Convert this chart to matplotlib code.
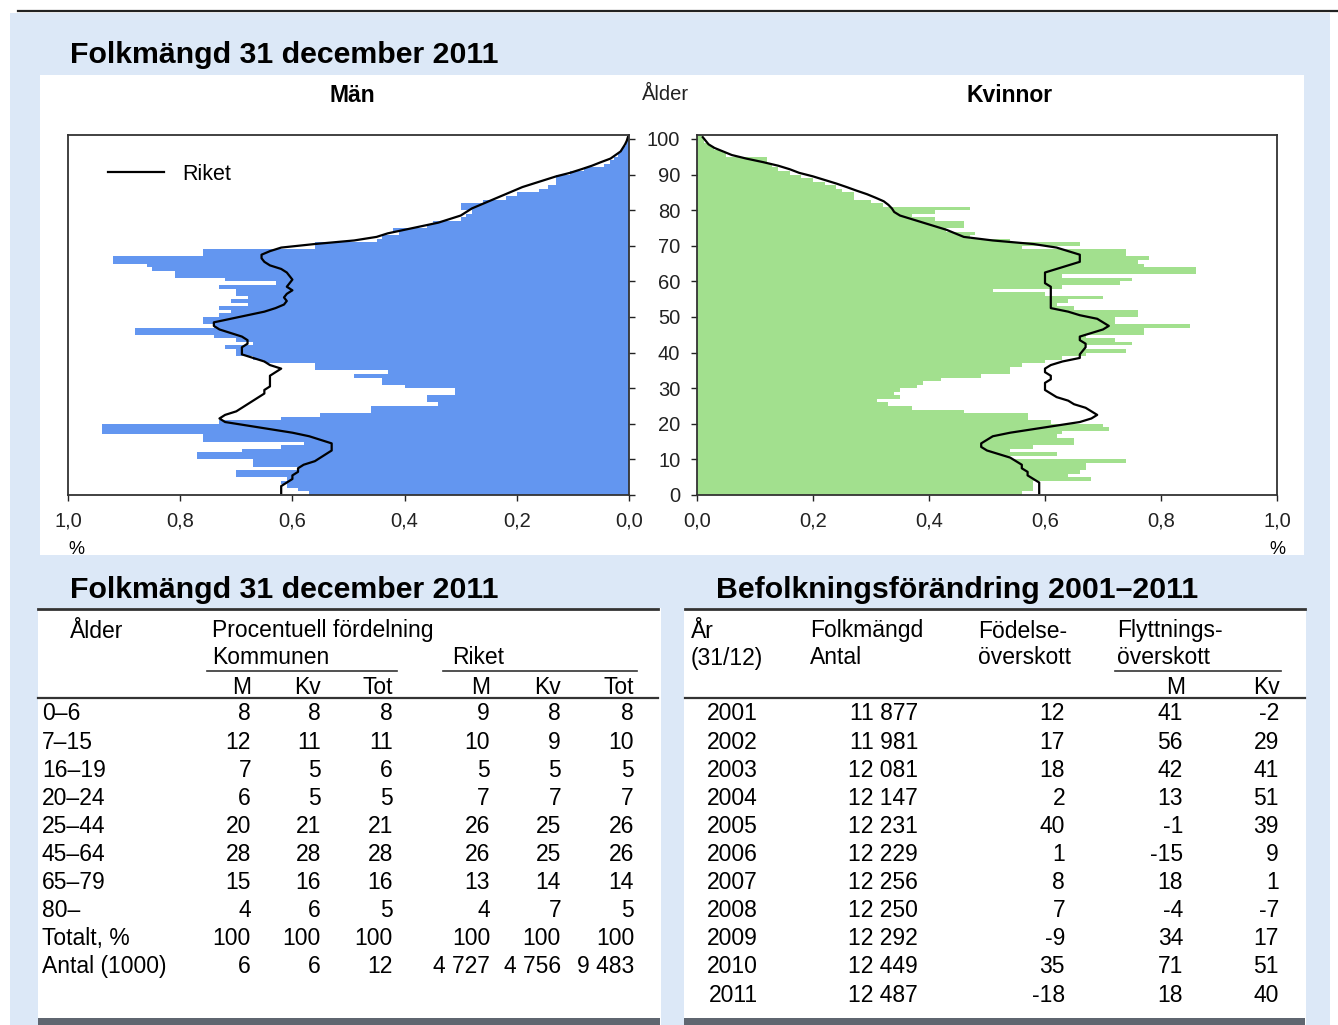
import numpy as np
import matplotlib
matplotlib.use("Agg")
import matplotlib.pyplot as plt
from matplotlib.patches import Rectangle
from matplotlib.lines import Line2D
from matplotlib.ticker import FuncFormatter

plt.rcParams['font.family'] = ['Liberation Sans', 'DejaVu Sans']

# --- data: befolkningspyramid, andel (%) per ettårsklass 0-100 ---
alder = np.arange(0, 101)

man = [0.57, 0.59, 0.61, 0.62, 0.61, 0.70, 0.70, 0.59, 0.67, 0.67,
       0.77, 0.77, 0.69, 0.62, 0.58, 0.76, 0.76, 0.94, 0.94, 0.94,
       0.73, 0.62, 0.55, 0.46, 0.46, 0.34, 0.36, 0.36, 0.31, 0.31,
       0.40, 0.44, 0.44, 0.49, 0.43, 0.56, 0.56, 0.65, 0.67, 0.70,
       0.70, 0.72, 0.67, 0.70, 0.74, 0.88, 0.88, 0.74, 0.76, 0.76,
       0.73, 0.71, 0.73, 0.68, 0.71, 0.68, 0.70, 0.70, 0.73, 0.63,
       0.72, 0.81, 0.81, 0.85, 0.86, 0.92, 0.92, 0.76, 0.76, 0.56,
       0.56, 0.45, 0.44, 0.41, 0.42, 0.36, 0.35, 0.30, 0.29, 0.28,
       0.30, 0.30, 0.26, 0.22, 0.20, 0.16, 0.145, 0.13, 0.13, 0.13,
       0.105, 0.08, 0.045, 0.033, 0.026, 0.02, 0.015, 0.01, 0.005, 0.003,
       0.002]

kvinnor = [0.56, 0.58, 0.58, 0.58, 0.68, 0.64, 0.66, 0.67, 0.67, 0.74,
           0.54, 0.62, 0.54, 0.58, 0.65, 0.65, 0.62, 0.63, 0.71, 0.70,
           0.61, 0.57, 0.57, 0.46, 0.37, 0.33, 0.31, 0.35, 0.34, 0.35,
           0.38, 0.39, 0.42, 0.49, 0.54, 0.54, 0.56, 0.60, 0.63, 0.67,
           0.74, 0.67, 0.75, 0.72, 0.67, 0.77, 0.77, 0.85, 0.72, 0.72,
           0.76, 0.76, 0.65, 0.62, 0.64, 0.70, 0.60, 0.51, 0.63, 0.73,
           0.75, 0.63, 0.86, 0.86, 0.77, 0.76, 0.78, 0.74, 0.74, 0.56,
           0.66, 0.54, 0.47, 0.48, 0.43, 0.46, 0.46, 0.41, 0.37, 0.41,
           0.47, 0.32, 0.30, 0.27, 0.27, 0.25, 0.24, 0.22, 0.20, 0.18,
           0.16, 0.14, 0.13, 0.12, 0.12, 0.05, 0.045, 0.03, 0.02, 0.012,
           0.01]

riket_man = [0.62, 0.62, 0.62, 0.61, 0.60, 0.60, 0.59, 0.59, 0.58, 0.56,
             0.55, 0.54, 0.53, 0.53, 0.53, 0.55, 0.57, 0.60, 0.64, 0.68,
             0.72, 0.73, 0.72, 0.70, 0.69, 0.68, 0.67, 0.66, 0.65, 0.65,
             0.64, 0.64, 0.64, 0.64, 0.63, 0.62, 0.64, 0.65, 0.67, 0.69,
             0.69, 0.69, 0.68, 0.68, 0.69, 0.71, 0.73, 0.74, 0.74, 0.71,
             0.68, 0.65, 0.63, 0.615, 0.61, 0.615, 0.61, 0.60, 0.61, 0.605,
             0.60, 0.605, 0.61, 0.62, 0.64, 0.65, 0.655, 0.655, 0.64, 0.62,
             0.56, 0.49, 0.45, 0.43, 0.40, 0.37, 0.34, 0.32, 0.30, 0.29,
             0.28, 0.265, 0.25, 0.235, 0.22, 0.205, 0.19, 0.17, 0.15, 0.13,
             0.105, 0.085, 0.066, 0.05, 0.033, 0.024, 0.015, 0.011, 0.007, 0.004,
             0.002]

riket_kv = [0.59, 0.59, 0.59, 0.59, 0.58, 0.57, 0.57, 0.56, 0.56, 0.55,
            0.54, 0.52, 0.50, 0.49, 0.49, 0.50, 0.51, 0.54, 0.58, 0.62,
            0.66, 0.68, 0.69, 0.68, 0.67, 0.65, 0.64, 0.62, 0.61, 0.60,
            0.60, 0.60, 0.61, 0.61, 0.60, 0.60, 0.61, 0.63, 0.66, 0.66,
            0.665, 0.67, 0.67, 0.66, 0.66, 0.68, 0.70, 0.71, 0.70, 0.69,
            0.66, 0.64, 0.61, 0.61, 0.61, 0.61, 0.61, 0.61, 0.61, 0.60,
            0.60, 0.60, 0.60, 0.62, 0.64, 0.66, 0.66, 0.66, 0.64, 0.62,
            0.58, 0.51, 0.46, 0.445, 0.43, 0.41, 0.39, 0.37, 0.35, 0.34,
            0.336, 0.33, 0.322, 0.308, 0.293, 0.275, 0.258, 0.24, 0.22, 0.20,
            0.176, 0.16, 0.14, 0.114, 0.085, 0.06, 0.045, 0.03, 0.02, 0.015,
            0.01]

# --- data: tabell Folkmängd ---
aldersgrupper = ["0–6", "7–15", "16–19", "20–24", "25–44", "45–64", "65–79", "80–",
                 "Totalt, %", "Antal (1000)"]
kom_m = [8, 12, 7, 6, 20, 28, 15, 4, 100, 6]
kom_kv = [8, 11, 5, 5, 21, 28, 16, 6, 100, 6]
kom_tot = [8, 11, 6, 5, 21, 28, 16, 5, 100, 12]
rik_m = [9, 10, 5, 7, 26, 26, 13, 4, 100, 4727]
rik_kv = [8, 9, 5, 7, 25, 25, 14, 7, 100, 4756]
rik_tot = [8, 10, 5, 7, 26, 26, 14, 5, 100, 9483]

# --- data: tabell Befolkningsförändring ---
ar = [2001, 2002, 2003, 2004, 2005, 2006, 2007, 2008, 2009, 2010, 2011]
folkmangd = [11877, 11981, 12081, 12147, 12231, 12229, 12256, 12250, 12292, 12449, 12487]
fodelseoversk = [12, 17, 18, 2, 40, 1, 8, 7, -9, 35, -18]
flytt_m = [41, 56, 42, 13, -1, -15, 18, -4, 34, 71, 18]
flytt_kv = [-2, 29, 41, 51, 39, 9, 1, -7, 17, 51, 40]

W, H = 1338, 1025
BLA = '#6396F0'
GRON = '#A2E08E'
BAKGRUND = '#DCE8F7'


def fx(px):
    return px / W


def fy(py):
    return 1 - py / H


def tal(v):
    return f"{v:,}".replace(",", " ")


fig = plt.figure(figsize=(W / 100, H / 100), dpi=100)

# bakgrund och paneler
fig.add_artist(Rectangle((fx(10), 0), fx(1330) - fx(10), fy(13), transform=fig.transFigure,
                         facecolor=BAKGRUND, edgecolor='none', zorder=-10))
for x0, y0, x1, y1 in [(40, 75, 1304, 555), (38, 608, 661, 1025), (684, 608, 1306, 1025)]:
    fig.add_artist(Rectangle((fx(x0), fy(y1)), fx(x1) - fx(x0), fy(y0) - fy(y1),
                             transform=fig.transFigure, facecolor='white',
                             edgecolor='none', zorder=-9))
fig.add_artist(Line2D([fx(18), 1], [fy(11), fy(11)], color='#222222', lw=1.6,
                      transform=fig.transFigure))

# --- pyramid ---
komma = FuncFormatter(lambda v, p: f"{v:.1f}".replace(".", ","))
ax_m = fig.add_axes([fx(68), fy(495), fx(629) - fx(68), (101 * 3.56) / H])
ax_k = fig.add_axes([fx(697), fy(495), fx(1277) - fx(697), (101 * 3.56) / H])

ax_m.barh(alder, man, height=1, align='edge', color=BLA, linewidth=0)
l_riket, = ax_m.plot(riket_man, alder + 0.5, color='black', lw=1.6)
ax_k.barh(alder, kvinnor, height=1, align='edge', color=GRON, linewidth=0)
ax_k.plot(riket_kv, alder + 0.5, color='black', lw=1.6)

ax_m.set_xlim(1.0, 0.0)
ax_k.set_xlim(0.0, 1.0)
for ax in (ax_m, ax_k):
    ax.set_ylim(0, 101)
    ax.set_xticks([0.0, 0.2, 0.4, 0.6, 0.8, 1.0])
    ax.xaxis.set_major_formatter(komma)
    ax.set_yticks(range(0, 101, 10))
    ax.tick_params(axis='x', direction='out', length=4, width=1, pad=8,
                   labelsize=14.5, colors='#222222')
    ax.tick_params(axis='y', direction='out', length=4, width=1, colors='#222222')
    for s in ax.spines.values():
        s.set_linewidth(1.3)
        s.set_color('#333333')
    ax.set_facecolor('white')

ax_m.yaxis.tick_right()
ax_m.tick_params(axis='y', labelright=False)
ax_k.tick_params(axis='y', labelleft=True, pad=8, labelsize=14.5)

ax_m.legend([l_riket], ["Riket"], loc='upper left', bbox_to_anchor=(0.036, 0.975),
            frameon=False, fontsize=15.5, handlelength=2.6, handletextpad=0.85)

fig.text(fx(352), fy(95), "Män", fontsize=16.5, fontweight='bold', ha='center', va='center')
fig.text(fx(666), fy(95), "Ålder", fontsize=14.5, ha='center', va='center', color='#222222')
fig.text(fx(1010), fy(95), "Kvinnor", fontsize=16.5, fontweight='bold', ha='center', va='center')
fig.text(fx(76), fy(549), "%", fontsize=13, ha='center', va='center')
fig.text(fx(1277), fy(549), "%", fontsize=13, ha='center', va='center')

# rubriker
RS = 21.8
fig.text(fx(70), fy(55), "Folkmängd 31 december 2011", fontsize=RS, fontweight='bold',
         ha='left', va='center')
fig.text(fx(70), fy(590), "Folkmängd 31 december 2011", fontsize=RS, fontweight='bold',
         ha='left', va='center')
fig.text(fx(716), fy(590), "Befolkningsförändring 2001–2011", fontsize=RS, fontweight='bold',
         ha='left', va='center')


def hlinje(x0, x1, y, lw=1.6, color='#333333'):
    fig.add_artist(Line2D([fx(x0), fx(x1)], [fy(y), fy(y)], color=color, lw=lw,
                          transform=fig.transFigure))


TS = 16.5

# --- vänster tabell ---
hlinje(38, 658, 609, lw=2)
hlinje(38, 658, 698, lw=1.6)
hlinje(207, 397, 671, lw=1.2)
hlinje(443, 637, 671, lw=1.2)
fig.add_artist(Rectangle((fx(38), 0), fx(660) - fx(38), fy(1018), transform=fig.transFigure,
                         facecolor='#5f6670', edgecolor='none'))

fig.text(fx(70), fy(631), "Ålder", fontsize=TS, va='center')
fig.text(fx(212), fy(631), "Procentuell fördelning", fontsize=TS, va='center')
fig.text(fx(212), fy(658), "Kommunen", fontsize=TS, va='center')
fig.text(fx(452), fy(658), "Riket", fontsize=TS, va='center')
kol_x = [251, 321, 393, 490, 561, 634]
for xr, rub in zip(kol_x, ["M", "Kv", "Tot", "M", "Kv", "Tot"]):
    fig.text(fx(xr), fy(687), rub, fontsize=TS, ha='right', va='center')

kolumner = [kom_m, kom_kv, kom_tot, rik_m, rik_kv, rik_tot]
for i, grupp in enumerate(aldersgrupper):
    yy = 714 + 28.1 * i
    fig.text(fx(42), fy(yy), grupp, fontsize=TS, va='center')
    for xr, kol in zip(kol_x, kolumner):
        fig.text(fx(xr), fy(yy), tal(kol[i]), fontsize=TS, ha='right', va='center')

# --- höger tabell ---
hlinje(685, 1305, 609, lw=2)
hlinje(685, 1305, 698, lw=1.6)
hlinje(1115, 1281, 671, lw=1.2)
fig.add_artist(Rectangle((fx(684), 0), fx(1305) - fx(684), fy(1018), transform=fig.transFigure,
                         facecolor='#5f6670', edgecolor='none'))

fig.text(fx(691), fy(631), "År", fontsize=TS, va='center')
fig.text(fx(691), fy(658), "(31/12)", fontsize=TS, va='center')
fig.text(fx(810), fy(631), "Folkmängd", fontsize=TS, va='center')
fig.text(fx(810), fy(658), "Antal", fontsize=TS, va='center')
fig.text(fx(978), fy(631), "Födelse-", fontsize=TS, va='center')
fig.text(fx(978), fy(658), "överskott", fontsize=TS, va='center')
fig.text(fx(1117), fy(631), "Flyttnings-", fontsize=TS, va='center')
fig.text(fx(1117), fy(658), "överskott", fontsize=TS, va='center')
fig.text(fx(1185), fy(687), "M", fontsize=TS, ha='right', va='center')
fig.text(fx(1280), fy(687), "Kv", fontsize=TS, ha='right', va='center')

kol_x2 = [758, 918, 1065, 1183, 1279]
kolumner2 = [ar, folkmangd, fodelseoversk, flytt_m, flytt_kv]
for i in range(len(ar)):
    yy = 714 + 28.1 * i
    for xr, kol in zip(kol_x2, kolumner2):
        txt = str(kol[i]) if kol is ar else tal(kol[i])
        fig.text(fx(xr), fy(yy), txt, fontsize=TS, ha='right', va='center')

fig.savefig("out.png", dpi=100)
